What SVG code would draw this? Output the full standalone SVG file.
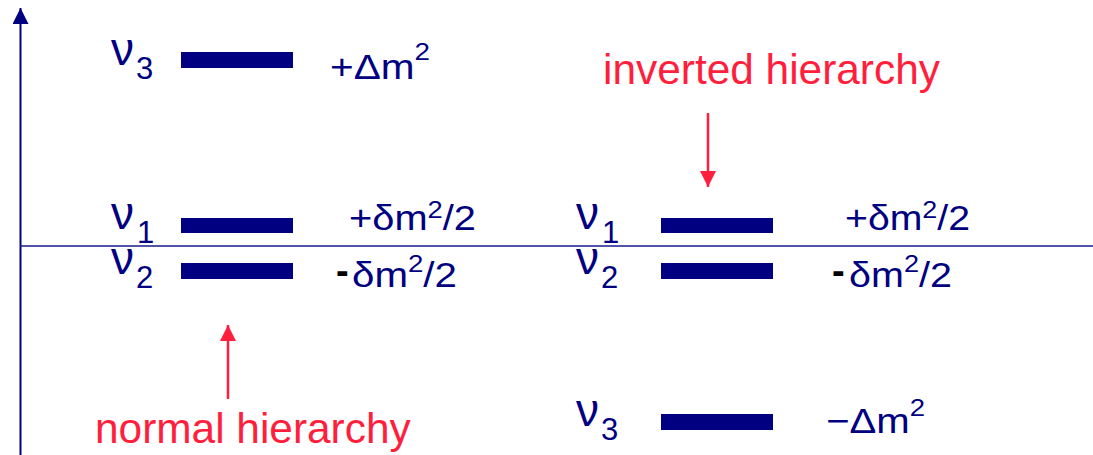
<svg xmlns="http://www.w3.org/2000/svg" width="1093" height="455" viewBox="0 0 1093 455">
<defs>
<marker id="navyHead" viewBox="0 0 16 16" refX="16" refY="8" markerWidth="16" markerHeight="16" markerUnits="userSpaceOnUse" orient="auto">
<path d="M0,0 L16,8 L0,16 Z" fill="#000080"/>
</marker>
<marker id="redHead" viewBox="0 0 16 16" refX="16" refY="8" markerWidth="16" markerHeight="16" markerUnits="userSpaceOnUse" orient="auto">
<path d="M0,0 L16,8 L0,16 Z" fill="#FF1F3D"/>
</marker>
</defs>
<style>
text{font-family:"Liberation Sans",Arial,sans-serif}
.nu{fill:#000080;font-size:46px}
.sub{fill:#000080;font-size:31px}
.lbl{fill:#000080;font-size:35px}
.sup{font-size:24px}
.dash{fill:#000000;font-size:38px;font-weight:bold}
.red{fill:#FF1F3D;font-size:42.4px}
.bar{fill:#000080}
.axis{stroke:#000080;stroke-width:2;fill:none}
.rarrow{stroke:#FF1F3D;stroke-width:2.5;fill:none}
</style>
<g id="connectors">
<line class="axis" x1="20.5" y1="455" x2="20.5" y2="8" marker-end="url(#navyHead)"/>
<line x1="20" y1="246" x2="1093" y2="246" stroke="#1a1a8c" stroke-width="1.6"/>
<line class="rarrow" x1="228" y1="399" x2="228" y2="325" marker-end="url(#redHead)"/>
<line class="rarrow" x1="708" y1="113" x2="708" y2="187" marker-end="url(#redHead)"/>
</g>
<g id="normal-nu3">
<text class="nu" x="111" y="65">ν</text><text class="sub" x="136" y="79">3</text>
<rect class="bar" x="181" y="52" width="112" height="16"/>
<text class="lbl" x="330" y="79" textLength="100" lengthAdjust="spacingAndGlyphs">+Δm<tspan class="sup" dy="-19">2</tspan></text>
</g>
<g id="normal-nu1">
<text class="nu" x="111" y="229">ν</text><text class="sub" x="137" y="243">1</text>
<rect class="bar" x="181" y="218" width="112" height="15"/>
<text class="lbl" x="349" y="230" textLength="127" lengthAdjust="spacingAndGlyphs">+δm<tspan class="sup" dy="-12">2</tspan><tspan dy="12">/2</tspan></text>
</g>
<g id="normal-nu2">
<text class="nu" x="111" y="274">ν</text><text class="sub" x="136" y="288">2</text>
<rect class="bar" x="181" y="263" width="112" height="16"/>
<text class="dash" x="336" y="284">-</text>
<text class="lbl" x="352" y="287" textLength="105" lengthAdjust="spacingAndGlyphs">δm<tspan class="sup" dy="-15">2</tspan><tspan dy="15">/2</tspan></text>
</g>
<g id="inverted-nu1">
<text class="nu" x="576" y="229">ν</text><text class="sub" x="602" y="243">1</text>
<rect class="bar" x="661" y="218" width="112" height="15"/>
<text class="lbl" x="845" y="230" textLength="125" lengthAdjust="spacingAndGlyphs">+δm<tspan class="sup" dy="-12">2</tspan><tspan dy="12">/2</tspan></text>
</g>
<g id="inverted-nu2">
<text class="nu" x="576" y="274">ν</text><text class="sub" x="601" y="288">2</text>
<rect class="bar" x="661" y="263" width="112" height="16"/>
<text class="dash" x="832" y="284">-</text>
<text class="lbl" x="849" y="287" textLength="103" lengthAdjust="spacingAndGlyphs">δm<tspan class="sup" dy="-15">2</tspan><tspan dy="15">/2</tspan></text>
</g>
<g id="inverted-nu3">
<text class="nu" x="576" y="426">ν</text><text class="sub" x="601" y="440">3</text>
<rect class="bar" x="661" y="414" width="112" height="16"/>
<text class="lbl" x="826" y="433" textLength="99" lengthAdjust="spacingAndGlyphs">−Δm<tspan class="sup" dy="-17">2</tspan></text>
</g>
<g id="label-normal">
<text class="red" x="95" y="443">normal hierarchy</text>
</g>
<g id="label-inverted">
<text class="red" x="603" y="84">inverted hierarchy</text>
</g>
</svg>
